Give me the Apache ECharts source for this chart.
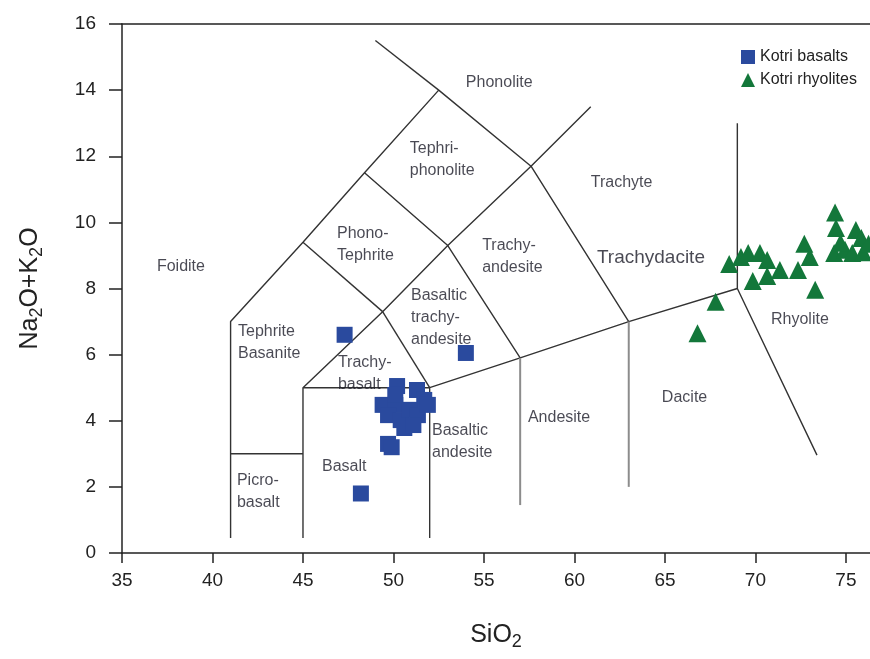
<!DOCTYPE html>
<html>
<head>
<meta charset="utf-8">
<script src="https://cdn.jsdelivr.net/npm/echarts@6/dist/echarts.min.js"></script>
<style>
  html, body { margin: 0; padding: 0; background: #fff; }
  #tas-chart { width: 870px; height: 659px; }
</style>
</head>
<body>
<div id="tas-chart"></div>
<script>
// sample data
const kotriBasalts = [
  [47.3, 6.6], [54.0, 6.05], [48.2, 1.8], [49.7, 3.3], [49.9, 3.2],
  [50.2, 5.05], [51.3, 4.93], [51.7, 4.63], [49.4, 4.48], [50.1, 4.48],
  [49.7, 4.17], [50.4, 4.02], [50.9, 4.33], [50.6, 3.78], [51.35, 4.17],
  [51.9, 4.48], [50.1, 4.78], [51.1, 3.87]
];
const kotriRhyolites = [
  [66.8, 6.65], [67.8, 7.6], [68.55, 8.74], [69.2, 8.95], [69.6, 9.07],
  [70.25, 9.07], [70.65, 8.86], [69.85, 8.23], [70.65, 8.38], [71.35, 8.56],
  [72.35, 8.56], [72.7, 9.35], [73.0, 8.95], [73.3, 7.96], [74.4, 10.3],
  [74.45, 9.83], [75.55, 9.77], [75.85, 9.53], [74.35, 9.07], [74.95, 9.17],
  [75.35, 9.07], [75.95, 9.1], [74.7, 9.38], [76.25, 9.35]
];

// TAS field boundaries (Le Bas et al.)
const boundaries = [
  [[41, 0.45], [41, 7], [45, 9.4], [48.4, 11.5], [52.5, 14], [57.6, 11.7], [63, 7], [69, 8], [73.4, 2.96]],
  [[52.5, 14], [49, 15.5]],
  [[45, 0.45], [45, 5], [49.4, 7.3], [53, 9.3], [57.6, 11.7], [60.9, 13.5]],
  [[52, 0.45], [52, 5], [57, 5.9], [63, 7]],
  [[69, 8], [69, 13]],
  [[41, 3], [45, 3]],
  [[45, 5], [52, 5]],
  [[49.4, 7.3], [52, 5]],
  [[45, 9.4], [49.4, 7.3]],
  [[48.4, 11.5], [53, 9.3], [57, 5.9]]
];
const greyBoundaries = [
  [[57, 1.45], [57, 5.9]],
  [[63, 2], [63, 7]]
];

// field names: [left x, centre y, text]
const fieldNames = [
  [54.0, 14.22, 'Phonolite'],
  [50.9, 11.89, 'Tephri-\nphonolite'],
  [60.9, 11.19, 'Trachyte'],
  [46.88, 9.32, 'Phono-\nTephrite'],
  [36.93, 8.65, 'Foidite'],
  [54.9, 8.95, 'Trachy-\nandesite'],
  [50.97, 7.11, 'Basaltic\ntrachy-\nandesite'],
  [41.41, 6.35, 'Tephrite\nBasanite'],
  [70.86, 7.05, 'Rhyolite'],
  [46.93, 5.44, 'Trachy-\nbasalt'],
  [64.83, 4.69, 'Dacite'],
  [57.43, 4.11, 'Andesite'],
  [52.13, 3.36, 'Basaltic\nandesite'],
  [46.05, 2.6, 'Basalt'],
  [41.35, 1.85, 'Picro-\nbasalt']
];
const bigFieldNames = [
  [61.24, 8.92, 'Trachydacite']
];

const FONT = 'Liberation Sans, Arial, sans-serif';

const chart = echarts.init(document.getElementById('tas-chart'), null, { renderer: 'canvas' });

const series = [];
boundaries.forEach(function (pts) {
  series.push({
    type: 'line', data: pts, symbol: 'none', silent: true, z: 1,
    lineStyle: { color: '#333', width: 1.4 }
  });
});
greyBoundaries.forEach(function (pts) {
  series.push({
    type: 'line', data: pts, symbol: 'none', silent: true, z: 1,
    lineStyle: { color: '#8c8c8c', width: 2 }
  });
});

function nameSeries(list, size) {
  return {
    type: 'scatter', data: list, symbolSize: 0, silent: true, z: 2,
    itemStyle: { color: 'transparent' },
    label: {
      show: true, position: 'right', distance: 0,
      formatter: function (p) { return p.data[2]; },
      color: '#1c1c28', fontFamily: FONT, fontSize: size, lineHeight: 22,
      align: 'left'
    }
  };
}
series.push(nameSeries(fieldNames, 16));
series.push(nameSeries(bigFieldNames, 19));

series.push({
  name: 'Kotri basalts', type: 'scatter', data: kotriBasalts,
  symbol: 'rect', symbolSize: 16, z: 5,
  itemStyle: { color: '#2a4a9e', opacity: 1 }
});
series.push({
  name: 'Kotri rhyolites', type: 'scatter', data: kotriRhyolites,
  symbol: 'triangle', symbolSize: 18, z: 5,
  itemStyle: { color: '#13773a', opacity: 1 }
});

const option = {
  animation: false,
  grid: { left: 122, right: 0, top: 24, bottom: 106 },
  legend: {
    data: ['Kotri basalts', 'Kotri rhyolites'],
    orient: 'vertical', left: 736, top: 44,
    itemWidth: 14, itemHeight: 14, itemGap: 7,
    textStyle: { fontFamily: FONT, fontSize: 16, color: '#222' }
  },
  xAxis: [{
    type: 'value', min: 35, max: 76.33, interval: 5,
    splitLine: { show: false },
    axisLine: { onZero: false, lineStyle: { color: '#222', width: 1.5 } },
    axisTick: { length: 10, lineStyle: { color: '#222', width: 1.5 } },
    axisLabel: { showMaxLabel: false, margin: 18, fontFamily: FONT, fontSize: 19, color: '#222' },
    name: 'SiO{sub|2}', nameLocation: 'middle', nameGap: 66,
    nameTextStyle: {
      fontFamily: FONT, fontSize: 25, color: '#222',
      rich: { sub: { fontFamily: FONT, fontSize: 18, color: '#222', padding: [14, 0, 0, 0] } }
    }
  }, {
    type: 'value', position: 'top', min: 35, max: 76.33,
    axisLine: { show: true, onZero: false, lineStyle: { color: '#222', width: 1.5 } },
    axisTick: { show: false }, axisLabel: { show: false }, splitLine: { show: false }
  }],
  yAxis: {
    type: 'value', min: 0, max: 16, interval: 2,
    splitLine: { show: false },
    axisLine: { show: true, onZero: false, lineStyle: { color: '#222', width: 1.5 } },
    axisTick: { show: true, length: 13, lineStyle: { color: '#222', width: 1.5 } },
    axisLabel: { margin: 26, fontFamily: FONT, fontSize: 19, color: '#222' },
    name: 'Na{sub|2}O+K{sub|2}O', nameLocation: 'middle', nameGap: 76,
    nameTextStyle: {
      fontFamily: FONT, fontSize: 25, color: '#222',
      rich: { sub: { fontFamily: FONT, fontSize: 18, color: '#222', padding: [14, 0, 0, 0] } }
    }
  },
  series: series
};

window.addEventListener('resize', function () {
  chart.resize();
});

option && chart.setOption(option);
</script>
</body>
</html>
